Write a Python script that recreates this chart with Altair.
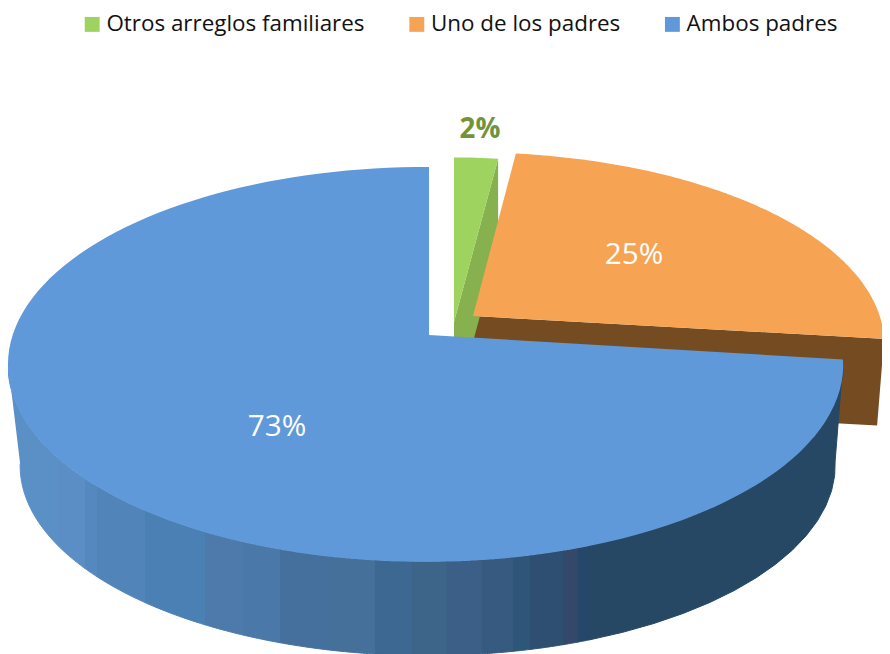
import math
import altair as alt
import pandas as pd

# Chart values
categories = ["Otros arreglos familiares", "Uno de los padres", "Ambos padres"]
shares = [2, 25, 73]
labels = ["2%", "25%", "73%"]
top_colors = ["#9dd35e", "#f6a354", "#5f99da"]
label_colors = ["#73933b", "#ffffff", "#ffffff"]
label_x = [480, 634, 277]
label_y = [130, 255, 427]
inner_green = "#87b04f"
inner_orange = "#754c21"
side_colors = ["#5a90c6", "#5a8ec4", "#5588be", "#5185b9", "#4a80b4", "#4d7aab", "#4a78a8",
               "#45709e", "#44709a", "#3c6892", "#3d6489", "#3b5f86", "#375a80", "#2d5679",
               "#2e4f71", "#33486b", "#25476a", "#264864"]
side_edges = [58, 85, 97, 145, 205, 243, 280, 332, 375, 412, 447, 482, 513, 530, 563, 578, 590]

# Pie geometry, in the picture's units
K = -0.149
KX = 0.008
START = -90.0
TOP = dict(a=193, b=413)
BOTTOM = dict(a=186, b=403)
ORANGE = dict(a=188, b=410)
BLUE_TOP = (429, 335)
BLUE_BOTTOM = (431, 437)
ORANGE_APEX = (473, 316)
ORANGE_LOW = (473, 403)
GREEN_APEX = (454, 322)
GREEN_LOW = (454, 412)


def rim(theta, apex, shape, scale=1.0, turn=0.0):
    t = math.radians(theta + turn)
    d = 1 + K * math.sin(t) + KX * math.cos(t)
    return (apex[0] + scale * shape["b"] * math.cos(t) / d,
            apex[1] + scale * shape["a"] * math.sin(t) / d)


sweep = [s * 3.6 for s in shares]
green_end = START + sweep[0]
orange_end = green_end + sweep[1]
blue_end = orange_end + sweep[2]


def arc(t0, t1, apex, shape, scale=1.0, turn=0.0, steps=120):
    return [rim(t0 + (t1 - t0) * i / steps, apex, shape, scale, turn) for i in range(steps + 1)]


def rows(group, pts, **extra):
    return [dict(group=group, i=i, x=p[0], y=p[1], **extra) for i, p in enumerate(pts)]


def angle_at(x, apex, shape):
    lo, hi = 7.2, 172.0
    for _ in range(40):
        mid = (lo + hi) / 2
        if rim(mid, apex, shape)[0] > x:
            lo = mid
        else:
            hi = mid
    return (lo + hi) / 2


# Flat tops of the three slices
top = []
top += rows(categories[0], [GREEN_APEX] + arc(START, green_end, GREEN_APEX, TOP, 0.98, steps=8))
top += rows(categories[1], [ORANGE_APEX] + arc(green_end, orange_end, ORANGE_APEX, ORANGE, 1.0, -0.3))
top += rows(categories[2], [BLUE_TOP] + arc(orange_end, blue_end, BLUE_TOP, TOP))

# Cut faces hidden behind the tops
g_tip = rim(green_end, GREEN_APEX, TOP, 0.98)
g_low = rim(green_end, GREEN_LOW, TOP, 0.98)
o_end = rim(orange_end, ORANGE_APEX, ORANGE, 1.0, -0.3)
o_low = rim(orange_end, ORANGE_LOW, BOTTOM, 1.0, -0.3)
green_face = rows("g", [GREEN_APEX, g_tip, g_low, GREEN_LOW])
orange_face = rows("o", [ORANGE_APEX, o_end, o_low, ORANGE_LOW])

# Shaded rim of the large slice, left to right, with upright band edges
upper_t = [172.0] + [angle_at(x, BLUE_TOP, TOP) for x in side_edges] + [orange_end]
lower_t = [172.0] + [angle_at(x, BLUE_BOTTOM, BOTTOM) for x in side_edges] + [orange_end]
side = []
for j, c in enumerate(side_colors):
    upper = arc(upper_t[j], upper_t[j + 1], BLUE_TOP, TOP, steps=14)
    lower = arc(lower_t[j + 1], lower_t[j], BLUE_BOTTOM, BOTTOM, steps=14)
    side += rows(f"b{j:02d}", upper + lower, color=c)

X = alt.X("x:Q", axis=None, scale=alt.Scale(domain=[8, 882], nice=False, zero=False))
Y = alt.Y("y:Q", axis=None, scale=alt.Scale(domain=[654, 8], nice=False, zero=False))


def face(data, color):
    return alt.Chart(pd.DataFrame(data)).mark_line(
        fill=color, strokeWidth=0, clip=True, interpolate="linear"
    ).encode(X, Y, order="i:Q")


side_layer = alt.Chart(pd.DataFrame(side)).mark_line(strokeWidth=1, clip=True).encode(
    X, Y, order="i:Q", detail="group:N",
    fill=alt.Fill("color:N", scale=None), stroke=alt.Stroke("color:N", scale=None),
)

top_layer = alt.Chart(pd.DataFrame(top)).mark_line(strokeWidth=0, clip=True).encode(
    X, Y, order="i:Q",
    fill=alt.Fill("group:N", sort=categories,
                  scale=alt.Scale(domain=categories, range=top_colors),
                  legend=alt.Legend(orient="none", legendX=73, legendY=5, direction="horizontal",
                                    columns=3, title=None, symbolType="square", symbolSize=222,
                                    symbolStrokeWidth=0, labelFont="Open Sans", labelFontSize=22.4,
                                    labelColor="#111111", labelOffset=3, columnPadding=40.6,
                                    padding=0, labelLimit=400)),
)

text_df = pd.DataFrame(dict(x=label_x, y=label_y, t=labels, c=label_colors))
text_white = alt.Chart(text_df[1:]).mark_text(
    font="Open Sans", fontSize=29.7, baseline="middle"
).encode(X, Y, text="t:N", color=alt.Color("c:N", scale=None))
text_green = alt.Chart(text_df[:1]).mark_text(
    font="Open Sans", fontSize=27.7, fontWeight="bold", baseline="middle"
).encode(X, Y, text="t:N", color=alt.Color("c:N", scale=None))

chart = alt.layer(
    face(orange_face, inner_orange), face(green_face, inner_green),
    side_layer, top_layer, text_white, text_green,
).properties(width=874, height=646, padding=0, autosize=alt.AutoSizeParams(type="none")
).configure_view(stroke=None)

chart.save("out.html", embed_options={"renderer": "svg", "actions": False})
